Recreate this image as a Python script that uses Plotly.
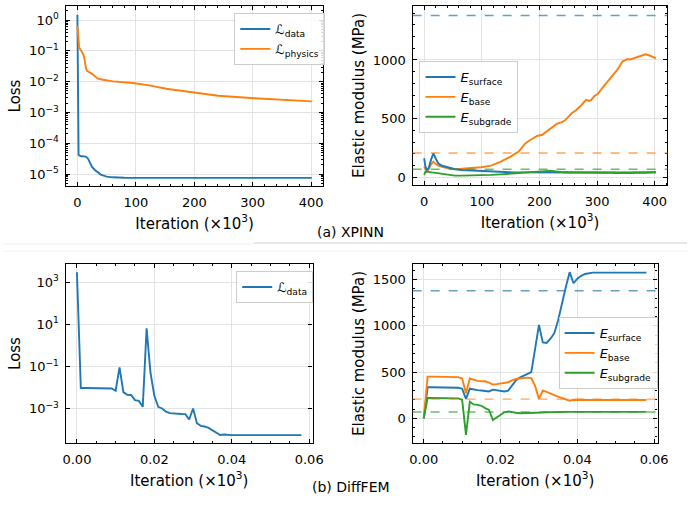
import plotly.graph_objects as go

# ---------------- data: (a) XPINN ----------------
xp_ldata_x = [0, 0.5, 1, 2, 3, 5, 8, 10, 12, 15, 18, 20, 22, 25, 30, 35, 40, 45, 50, 60, 70, 80, 100, 150, 200, 250, 300, 350, 401]
xp_ldata_y = [1.5, 0.01, 5e-5, 4.2e-5, 4.0e-5, 3.8e-5, 3.7e-5, 3.8e-5, 3.7e-5, 3.6e-5, 3.2e-5, 2.6e-5, 2.1e-5, 1.7e-5, 1.35e-5, 1.12e-5, 9.6e-6, 8.8e-6, 8.2e-6, 7.8e-6, 7.6e-6, 7.55e-6, 7.5e-6, 7.5e-6, 7.5e-6, 7.5e-6, 7.5e-6, 7.5e-6, 7.5e-6]

xp_lphys_x = [0, 1, 3, 8, 11, 15, 17, 25, 30, 35, 44, 61, 95, 123, 152, 202, 241, 303, 350, 401]
xp_lphys_y = [0.66, 0.35, 0.13, 0.09, 0.07, 0.026, 0.022, 0.018, 0.015, 0.0125, 0.0116, 0.0102, 0.0091, 0.0076, 0.0059, 0.0043, 0.0035, 0.0029, 0.0026, 0.0023]

xp_E_x = [0, 2, 4.6, 8, 12, 16, 20, 24.5, 30, 36, 45, 53, 65, 82, 99, 116, 133, 150, 164, 176, 184, 196, 205, 210, 219, 230, 238, 244, 256, 264, 273, 281, 286, 290, 295, 301, 310, 318, 327, 335, 344, 353, 358, 364, 375, 384, 390, 393, 402]
xp_base = [91, 70, 48, 70, 110, 133, 112, 99, 90, 82, 75, 71, 72, 77, 85, 99, 133, 176, 219, 290, 318, 352, 362, 381, 418, 455, 468, 483, 545, 574, 616, 659, 650, 659, 690, 710, 767, 815, 872, 915, 986, 1008, 1004, 1014, 1028, 1048, 1040, 1034, 1014]
xp_surf = [162, 95, 62, 80, 150, 205, 160, 119, 100, 91, 78, 68, 62, 57, 52, 48, 45, 43, 42, 41, 40, 40, 40, 40, 40, 40, 40, 40, 40, 40, 40, 40, 40, 40, 40, 40, 40, 40, 39, 38, 36, 34, 36, 38, 40, 41, 42, 42, 43]
xp_subg = [20, 45, 48, 44, 42, 40, 37, 34, 28, 20, 16, 14, 14, 14, 15, 20, 25, 30, 34, 36, 38, 43, 48, 52, 55, 46, 44, 43, 43, 43, 43, 43, 43, 43, 42, 42, 41, 40, 38, 36, 34, 34, 36, 38, 40, 42, 42, 43, 43]

# ---------------- data: (b) DiffFEM ----------------
df_x = [i * 0.001 for i in range(59)]
df_ldata = [3000, 0.0095, 0.0095, 0.0095, 0.0095, 0.0095, 0.0095, 0.0095, 0.0095, 0.009, 0.007,
            0.09, 0.006, 0.0045, 0.0044, 0.0025, 0.0023, 0.0012, 6.5, 0.05, 0.004,
            0.0012, 0.001, 0.0007, 0.0006, 0.00057, 0.00056, 0.00055, 0.00054, 0.0003, 0.001,
            0.0002, 0.00015, 0.00014, 0.00012, 0.00009, 0.00007, 0.000055, 0.000058, 0.000054, 0.000054,
            0.000054, 0.000054, 0.000054, 0.000054, 0.000054, 0.000054, 0.000054, 0.000054, 0.000054, 0.000054,
            0.000054, 0.000054, 0.000054, 0.000054, 0.000054, 0.000054, 0.000054, 0.000054]
df_surf = [0, 335, 335, 335, 335, 335, 335, 335, 335, 330, 320,
           210, 320, 310, 305, 300, 295, 290, 310, 305, 300,
           290, 300, 350, 410, 440, 460, 480, 500, 750, 1010,
           820, 815, 860, 920, 1060, 1250, 1420, 1580, 1460, 1510,
           1540, 1560, 1570, 1575, 1575, 1575, 1575, 1575, 1575, 1575,
           1575, 1575, 1575, 1575, 1575, 1575, 1575, 1575]
df_base = [0, 450, 450, 450, 450, 450, 450, 450, 450, 445, 430,
           270, 430, 415, 405, 400, 400, 385, 365, 370, 375,
           380, 390, 410, 425, 430, 435, 440, 435, 350, 210,
           300, 285, 265, 250, 235, 220, 205, 190, 200, 198,
           198, 198, 198, 198, 198, 198, 198, 198, 198, 198,
           198, 198, 198, 198, 198, 198, 198, 198]
df_subg = [0, 220, 220, 220, 220, 220, 220, 220, 220, 215, 200,
           -180, 180, 150, 145, 135, 110, 90, -20, 10, 40,
           65, 75, 65, 60, 55, 55, 55, 55, 58, 60,
           62, 65, 67, 68, 69, 70, 70, 70, 70, 70,
           70, 70, 70, 70, 70, 70, 70, 70, 70, 70,
           70, 70, 70, 70, 70, 70, 70, 70]

true_E = [1379, 206.8, 68.9]   # reference moduli (MPa): surface, base, subgrade

log_ticks_a = [1e-5, 1e-4, 1e-3, 1e-2, 1e-1, 1]
log_text_a = ["10<sup>−5</sup>", "10<sup>−4</sup>", "10<sup>−3</sup>", "10<sup>−2</sup>", "10<sup>−1</sup>", "10<sup>0</sup>"]
log_ticks_b = [1e-3, 1e-1, 1e1, 1e3]
log_text_b = ["10<sup>−3</sup>", "10<sup>−1</sup>", "10<sup>1</sup>", "10<sup>3</sup>"]

BLUE, ORANGE, GREEN = "#1f77b4", "#ff7f0e", "#2ca02c"
DASH = ["rgba(31,119,180,0.7)", "rgba(255,127,14,0.7)", "rgba(44,160,44,0.7)"]
FONT = "DejaVu Sans"
W, H = 698, 510

fig = go.Figure()
LW = 1.9

def tr(x, y, name, color, xa, ya, legend, rank):
    fig.add_trace(go.Scatter(x=x, y=y, mode="lines", name=name, line=dict(color=color, width=LW),
                             xaxis=xa, yaxis=ya, legend=legend, legendrank=rank))

tr(xp_ldata_x, xp_ldata_y, "ℒ<sub>data</sub>", BLUE, "x", "y", "legend", 1)
tr(xp_lphys_x, xp_lphys_y, "ℒ<sub>physics</sub>", ORANGE, "x", "y", "legend", 2)

tr(xp_E_x, xp_base, "<i>E</i><sub>base</sub>", ORANGE, "x2", "y2", "legend2", 2)
tr(xp_E_x, xp_surf, "<i>E</i><sub>surface</sub>", BLUE, "x2", "y2", "legend2", 1)
tr(xp_E_x, xp_subg, "<i>E</i><sub>subgrade</sub>", GREEN, "x2", "y2", "legend2", 3)

tr(df_x, df_ldata, "ℒ<sub>data</sub>", BLUE, "x3", "y3", "legend3", 1)

tr(df_x, df_surf, "<i>E</i><sub>surface</sub>", BLUE, "x4", "y4", "legend4", 1)
tr(df_x, df_base, "<i>E</i><sub>base</sub>", ORANGE, "x4", "y4", "legend4", 2)
tr(df_x, df_subg, "<i>E</i><sub>subgrade</sub>", GREEN, "x4", "y4", "legend4", 3)

shapes = []
for xa, ya in (("x2", "y2"), ("x4", "y4")):
    for v, c in zip(true_E, DASH):
        shapes.append(dict(type="line", xref=f"{xa} domain", yref=ya, x0=0, x1=1, y0=v, y1=v,
                           line=dict(color=c, width=1.4, dash="dash"), layer="above"))
# separators between panels
shapes.append(dict(type="line", xref="paper", yref="paper", x0=256 / W, x1=1, y0=1 - 243 / H, y1=1 - 243 / H,
                   line=dict(color="#cfcfcf", width=1)))
shapes.append(dict(type="line", xref="paper", yref="paper", x0=0, x1=256 / W, y0=1 - 244 / H, y1=1 - 244 / H,
                   line=dict(color="#f0f0f0", width=1)))
shapes.append(dict(type="line", xref="paper", yref="paper", x0=0, x1=1, y0=1 - 251 / H, y1=1 - 251 / H,
                   line=dict(color="#f2f2f2", width=1)))

def px_x(a, b):
    return [a / W, b / W]

def px_y(top, bot):
    return [1 - bot / H, 1 - top / H]

common = dict(showline=True, linecolor="black", linewidth=1.4, mirror="allticks",
              ticks="inside", ticklen=4, tickwidth=1, tickcolor="black",
              showgrid=True, gridcolor="#e3e3e3", gridwidth=1, zeroline=False,
              tickfont=dict(family=FONT, size=13, color="black"),
              title_font=dict(family=FONT, size=15, color="black"))
xtitle = "Iteration (×10<sup>3</sup>)"
minor_lin = lambda d: dict(dtick=d, ticks="inside", ticklen=2, tickcolor="black", showgrid=False)

layout = dict(
    width=W, height=H, margin=dict(l=0, r=0, t=0, b=0),
    paper_bgcolor="white", plot_bgcolor="white",
    font=dict(family=FONT, color="black", size=13),
    xaxis=dict(domain=px_x(64, 327), anchor="y", range=[-20, 421], tickvals=[0, 100, 200, 300, 400],
               minor=minor_lin(20), title=dict(text=xtitle, standoff=9), ticklabelstandoff=4, **common),
    yaxis=dict(domain=px_y(6, 186), anchor="x", type="log", range=[-5.39, 0.46],
               tickvals=log_ticks_a, ticktext=log_text_a,
               minor=dict(dtick="D1", ticks="inside", ticklen=2, tickcolor="black", showgrid=False),
               title=dict(text="Loss", standoff=4), ticklabelstandoff=3, **common),
    xaxis2=dict(domain=px_x(418, 678), anchor="y2", range=[-20, 422], tickvals=[0, 100, 200, 300, 400],
                minor=minor_lin(20), title=dict(text=xtitle, standoff=9), ticklabelstandoff=4, **common),
    yaxis2=dict(domain=px_y(6, 185), anchor="x2", range=[-66, 1460], tickvals=[0, 500, 1000],
                minor=minor_lin(100), title=dict(text="Elastic modulus (MPa)", standoff=4),
                ticklabelstandoff=3, **common),
    xaxis3=dict(domain=px_x(64, 316), anchor="y3", range=[-0.0029, 0.0609],
                tickvals=[0, 0.02, 0.04, 0.06], ticktext=["0.00", "0.02", "0.04", "0.06"],
                minor=minor_lin(0.005), title=dict(text=xtitle, standoff=9), ticklabelstandoff=4, **common),
    yaxis3=dict(domain=px_y(264, 443), anchor="x3", type="log", range=[-4.64, 3.87],
                tickvals=log_ticks_b, ticktext=log_text_b,
                title=dict(text="Loss", standoff=4), ticklabelstandoff=3, **common),
    xaxis4=dict(domain=px_x(418, 668), anchor="y4", range=[-0.0029, 0.0609],
                tickvals=[0, 0.02, 0.04, 0.06], ticktext=["0.00", "0.02", "0.04", "0.06"],
                minor=minor_lin(0.005), title=dict(text=xtitle, standoff=9), ticklabelstandoff=4, **common),
    yaxis4=dict(domain=px_y(264, 443), anchor="x4", range=[-267, 1668], tickvals=[0, 500, 1000, 1500],
                minor=minor_lin(100), title=dict(text="Elastic modulus (MPa)", standoff=4),
                ticklabelstandoff=3, **common),
    shapes=shapes,
    annotations=[
        dict(text="(a) XPINN", x=355 / W, y=1 - 232 / H, xref="paper", yref="paper", showarrow=False,
             font=dict(family=FONT, size=14, color="black")),
        dict(text="(b) DiffFEM", x=355 / W, y=1 - 497 / H, xref="paper", yref="paper", showarrow=False,
             font=dict(family=FONT, size=14, color="black")),
    ],
)

leg_common = dict(bgcolor="rgba(255,255,255,0.85)", bordercolor="#cccccc", borderwidth=1,
                  font=dict(family=FONT, size=13, color="black"), xanchor="left", yanchor="top",
                  tracegroupgap=0, itemwidth=30)
layout["legend"] = dict(x=236 / W, y=1 - 13 / H, **leg_common)
layout["legend2"] = dict(x=425 / W, y=1 - 61 / H, **leg_common)
layout["legend3"] = dict(x=238 / W, y=1 - 271 / H, **leg_common)
layout["legend4"] = dict(x=567 / W, y=1 - 317 / H, **leg_common)

fig.update_layout(**layout)
fig.write_html("out.html")
